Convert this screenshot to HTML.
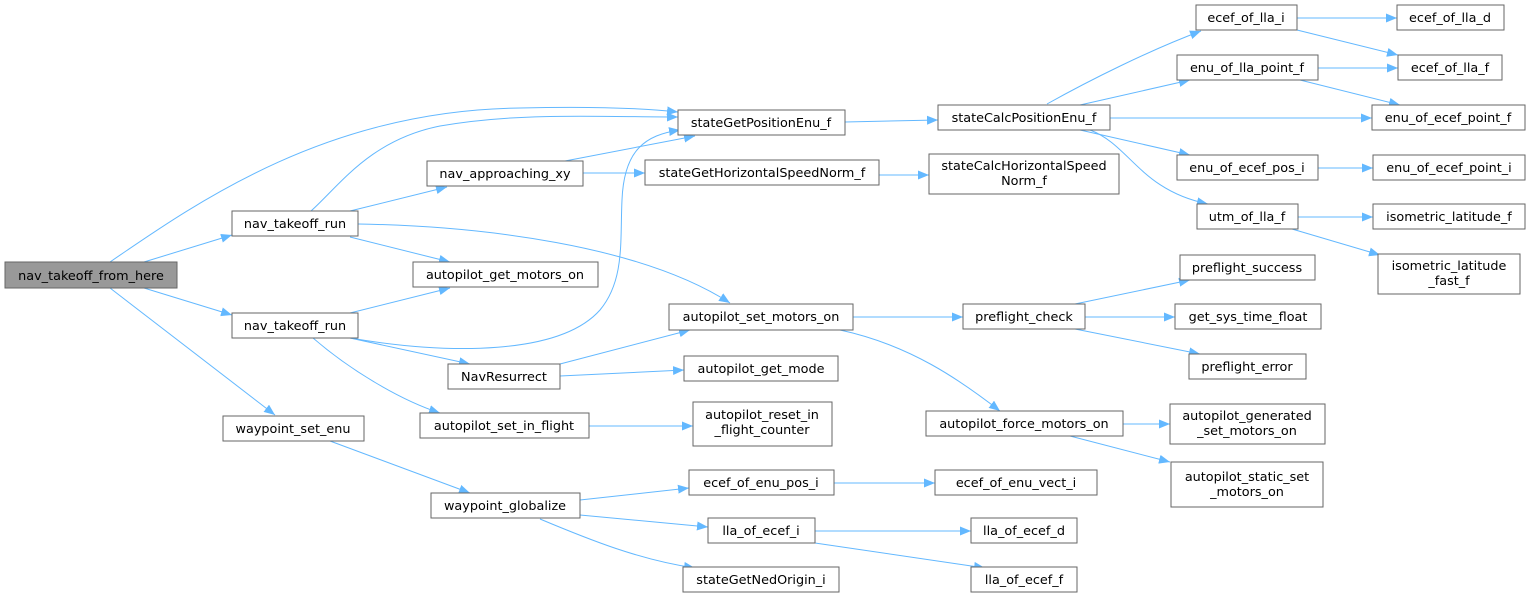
<!DOCTYPE html>
<html><head><meta charset="utf-8"><style>
html,body{margin:0;padding:0;background:#fff;}
svg{display:block}
text{font-family:"DejaVu Sans","Liberation Sans",sans-serif;font-size:12.8px;fill:#000;text-anchor:middle}
rect{fill:#fff;stroke:#666;stroke-width:1}
path.e{fill:none;stroke:#63b8ff;stroke-width:1}
</style></head><body>
<svg width="1531" height="600" viewBox="0 0 1531 600" xmlns="http://www.w3.org/2000/svg">
<defs><marker id="a" markerUnits="userSpaceOnUse" markerWidth="12" markerHeight="10" refX="11" refY="4.5" orient="auto"><path d="M0,0 L11,4.5 L0,9 z" fill="#63b8ff"/></marker></defs>
<g marker-end="url(#a)">
<path class="e" d="M110,262 C200,200 330,110 520,108 C600,106 650,109 678,112"/>
<path class="e" d="M144,262 L232,235"/>
<path class="e" d="M144,288 L232,315"/>
<path class="e" d="M110,288 L275,415"/>
<path class="e" d="M311,211 C340,185 370,140 440,126 C520,112 600,117 678,117"/>
<path class="e" d="M350,211 L447,187"/>
<path class="e" d="M358,224 C480,226 640,245 730,303"/>
<path class="e" d="M350,237 L450,262"/>
<path class="e" d="M350,313 L450,288"/>
<path class="e" d="M350,338 C450,355 560,355 600,310 C625,280 620,240 622,200 C624,150 645,135 680,130"/>
<path class="e" d="M350,338 L470,364"/>
<path class="e" d="M313,338 C350,370 400,400 440,413"/>
<path class="e" d="M330,441 L470,493"/>
<path class="e" d="M565,161 L695,136"/>
<path class="e" d="M583,173 L645,173"/>
<path class="e" d="M560,364 L690,330"/>
<path class="e" d="M560,376 L684,370"/>
<path class="e" d="M589,426 L693,426"/>
<path class="e" d="M845,122 L938,120"/>
<path class="e" d="M879,175 L929,175"/>
<path class="e" d="M853,317 L963,317"/>
<path class="e" d="M840,330 C910,345 960,380 1000,411"/>
<path class="e" d="M1047,104 C1090,80 1150,50 1201,31"/>
<path class="e" d="M1080,105 L1190,80"/>
<path class="e" d="M1110,118 L1372,118"/>
<path class="e" d="M1080,130 L1190,155"/>
<path class="e" d="M1090,130 C1130,145 1140,190 1208,204"/>
<path class="e" d="M1297,18 L1397,18"/>
<path class="e" d="M1297,30 L1398,55"/>
<path class="e" d="M1318,68 L1398,68"/>
<path class="e" d="M1300,80 L1400,105"/>
<path class="e" d="M1318,168 L1373,168"/>
<path class="e" d="M1298,217 L1373,217"/>
<path class="e" d="M1292,229 L1380,255"/>
<path class="e" d="M1075,304 L1190,280"/>
<path class="e" d="M1085,317 L1175,317"/>
<path class="e" d="M1075,329 L1200,354"/>
<path class="e" d="M1123,424 L1170,424"/>
<path class="e" d="M1070,436 L1170,462"/>
<path class="e" d="M580,500 L689,488"/>
<path class="e" d="M580,515 L708,527"/>
<path class="e" d="M540,519 C590,540 640,560 695,568"/>
<path class="e" d="M834,483 L935,483"/>
<path class="e" d="M815,531 L971,531"/>
<path class="e" d="M815,543 L985,568"/>
</g>
<rect x="5" y="262" width="172" height="26" style="fill:#999"/><text x="91" y="280">nav_takeoff_from_here</text>
<rect x="232" y="211" width="126" height="25"/><text x="295" y="228">nav_takeoff_run</text>
<rect x="232" y="313" width="126" height="25"/><text x="295" y="330">nav_takeoff_run</text>
<rect x="223" y="416" width="141" height="25"/><text x="293" y="433">waypoint_set_enu</text>
<rect x="427" y="161" width="156" height="25"/><text x="505" y="178">nav_approaching_xy</text>
<rect x="413" y="262" width="185" height="25"/><text x="505" y="279">autopilot_get_motors_on</text>
<rect x="448" y="364" width="112" height="25"/><text x="504" y="381">NavResurrect</text>
<rect x="420" y="413" width="169" height="25"/><text x="504" y="430">autopilot_set_in_flight</text>
<rect x="431" y="493" width="149" height="25"/><text x="505" y="510">waypoint_globalize</text>
<rect x="678" y="110" width="167" height="25"/><text x="761" y="127">stateGetPositionEnu_f</text>
<rect x="645" y="160" width="234" height="25"/><text x="762" y="177">stateGetHorizontalSpeedNorm_f</text>
<rect x="669" y="304" width="184" height="26"/><text x="761" y="321">autopilot_set_motors_on</text>
<rect x="684" y="356" width="154" height="25"/><text x="761" y="373">autopilot_get_mode</text>
<rect x="693" y="402" width="139" height="44"/><text x="762" y="419">autopilot_reset_in</text><text x="762" y="434">_flight_counter</text>
<rect x="689" y="470" width="145" height="25"/><text x="761" y="487">ecef_of_enu_pos_i</text>
<rect x="708" y="518" width="107" height="25"/><text x="761" y="535">lla_of_ecef_i</text>
<rect x="683" y="567" width="156" height="25"/><text x="761" y="584">stateGetNedOrigin_i</text>
<rect x="938" y="105" width="172" height="25"/><text x="1024" y="122">stateCalcPositionEnu_f</text>
<rect x="929" y="154" width="190" height="40"/><text x="1024" y="170">stateCalcHorizontalSpeed</text><text x="1024" y="185">Norm_f</text>
<rect x="963" y="304" width="122" height="25"/><text x="1024" y="321">preflight_check</text>
<rect x="926" y="411" width="197" height="25"/><text x="1024" y="428">autopilot_force_motors_on</text>
<rect x="935" y="470" width="162" height="25"/><text x="1016" y="487">ecef_of_enu_vect_i</text>
<rect x="971" y="518" width="106" height="25"/><text x="1024" y="535">lla_of_ecef_d</text>
<rect x="971" y="567" width="106" height="25"/><text x="1024" y="584">lla_of_ecef_f</text>
<rect x="1196" y="5" width="101" height="25"/><text x="1246" y="22">ecef_of_lla_i</text>
<rect x="1177" y="55" width="141" height="25"/><text x="1247" y="72">enu_of_lla_point_f</text>
<rect x="1177" y="155" width="141" height="25"/><text x="1247" y="172">enu_of_ecef_pos_i</text>
<rect x="1197" y="204" width="101" height="25"/><text x="1247" y="221">utm_of_lla_f</text>
<rect x="1180" y="255" width="135" height="25"/><text x="1247" y="272">preflight_success</text>
<rect x="1175" y="304" width="146" height="25"/><text x="1248" y="321">get_sys_time_float</text>
<rect x="1189" y="354" width="117" height="25"/><text x="1247" y="371">preflight_error</text>
<rect x="1170" y="404" width="155" height="40"/><text x="1247" y="420">autopilot_generated</text><text x="1247" y="435">_set_motors_on</text>
<rect x="1171" y="462" width="152" height="45"/><text x="1247" y="481">autopilot_static_set</text><text x="1247" y="496">_motors_on</text>
<rect x="1397" y="5" width="107" height="25"/><text x="1450" y="22">ecef_of_lla_d</text>
<rect x="1398" y="55" width="104" height="25"/><text x="1450" y="72">ecef_of_lla_f</text>
<rect x="1372" y="105" width="153" height="25"/><text x="1448" y="122">enu_of_ecef_point_f</text>
<rect x="1373" y="155" width="152" height="25"/><text x="1449" y="172">enu_of_ecef_point_i</text>
<rect x="1373" y="204" width="152" height="25"/><text x="1449" y="221">isometric_latitude_f</text>
<rect x="1378" y="254" width="142" height="40"/><text x="1449" y="270">isometric_latitude</text><text x="1449" y="285">_fast_f</text>
</svg>
</body></html>
